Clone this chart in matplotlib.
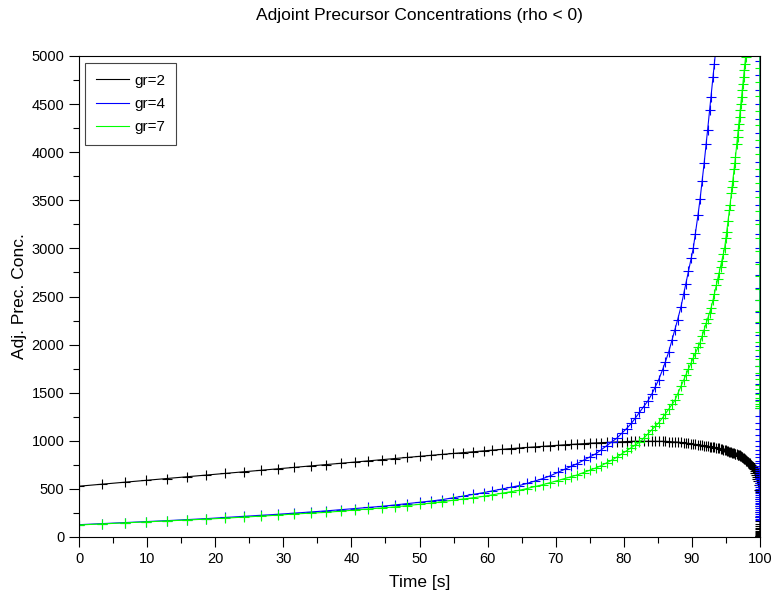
import matplotlib
matplotlib.use('Agg')
import matplotlib.pyplot as plt
from matplotlib.lines import Line2D
from matplotlib.ticker import MultipleLocator

# sample times [s] shared by the three groups
time = [0.0, 3.4, 6.7, 9.9, 12.9, 15.9, 18.7, 21.5, 24.2, 26.7,
        29.2, 31.6, 34.0, 36.2, 38.4, 40.5, 42.5, 44.5, 46.4, 48.2,
        50.0, 51.7, 53.3, 54.9, 56.4, 57.9, 59.4, 60.7, 62.1, 63.4,
        64.6, 65.8, 67.0, 68.1, 69.2, 70.3, 71.3, 72.3, 73.2, 74.1,
        75.0, 75.9, 76.7, 77.5, 78.2, 79.0, 79.7, 80.4, 81.1, 81.7,
        82.3, 82.9, 83.5, 84.1, 84.6, 85.1, 85.7, 86.1, 86.6, 87.1,
        87.5, 87.9, 88.4, 88.8, 89.1, 89.5, 89.9, 90.2, 90.5, 90.9,
        91.2, 91.5, 91.8, 92.1, 92.3, 92.6, 92.8, 93.1, 93.3, 93.6,
        93.8, 94.0, 94.2, 94.4, 94.6, 94.8, 95.0, 95.1, 95.3, 95.5,
        95.6, 95.8, 95.9, 96.0, 96.2, 96.3, 96.4, 96.6, 96.7, 96.8,
        96.9, 97.0, 97.1, 97.2, 97.3, 97.4, 97.5, 97.6, 97.7, 97.8,
        97.9, 98.0, 98.1, 98.2, 98.3, 98.4, 98.5, 98.6, 98.7, 98.8,
        98.9, 99.0, 99.1, 99.2, 99.3, 99.4, 99.5, 99.6, 99.7, 99.8,
        99.9]

# gr=2
black = [528, 549, 570, 589, 608, 627, 644, 661, 678, 694,
         709, 724, 739, 752, 766, 779, 792, 804, 816, 827,
         838, 849, 858, 868, 877, 887, 895, 903, 911, 919,
         925, 931, 937, 943, 948, 953, 958, 962, 966, 970,
         975, 978, 981, 984, 986, 989, 991, 992, 994, 995,
         995, 996, 996, 996, 996, 995, 994, 994, 992, 990,
         988, 986, 983, 980, 977, 973, 969, 967, 964, 959,
         956, 953, 950, 947, 944, 940, 938, 934, 931, 927,
         924, 920, 917, 913, 909, 904, 900, 898, 893, 888,
         886, 880, 878, 875, 870, 867, 864, 859, 856, 853,
         851, 848, 843, 838, 833, 828, 822, 817, 811, 806,
         800, 795, 789, 783, 777, 771, 765, 756, 747, 738,
         729, 720, 702, 684, 665, 645, 625, 603, 580, 545,
         490]

# gr=4 (leaves the plot at the top after ~94 s)
blue = [128, 139, 149, 160, 170, 181, 191, 203, 214, 225,
        236, 248, 260, 271, 284, 296, 308, 319, 333, 347,
        361, 374, 388, 407, 425, 442, 461, 479, 499, 517,
        534, 557, 583, 607, 636, 671, 703, 734, 764, 798,
        832, 866, 907, 950, 987, 1029, 1078, 1127, 1180, 1237,
        1295, 1354, 1411, 1484, 1558, 1631, 1740, 1820, 1925, 2053,
        2155, 2258, 2394, 2528, 2630, 2764, 2899, 3000, 3150, 3350,
        3512, 3700, 3888, 4089, 4227, 4435, 4574, 4782, 4920, 5130,
        5270, 5410]

# gr=7
green = [125, 136, 146, 156, 166, 176, 186, 196, 207, 217,
         227, 239, 248, 256, 268, 280, 291, 302, 313, 326,
         340, 353, 367, 382, 395, 408, 423, 438, 455, 471,
         485, 504, 525, 544, 565, 587, 607, 627, 646, 670,
         694, 718, 742, 772, 798, 831, 863, 896, 929, 957,
         985, 1026, 1070, 1113, 1149, 1186, 1240, 1280, 1330, 1380,
         1420, 1486, 1568, 1634, 1684, 1748, 1812, 1860, 1908, 1972,
         2020, 2087, 2154, 2221, 2266, 2333, 2378, 2463, 2526, 2621,
         2684, 2747, 2810, 2874, 2937, 3000, 3112, 3169, 3281, 3394,
         3450, 3575, 3637, 3700, 3825, 3887, 3950, 4089, 4158, 4228,
         4297, 4366, 4436, 4505, 4574, 4644, 4713, 4782, 4851, 4921,
         4990, 5070, 5150]

# values piled up at t = 100 s (final drop of each curve)
black_edge = [560, 470, 390, 320, 260, 210, 170, 140, 115, 95, 78, 63,
              50, 39, 30, 22, 15, 10, 6, 3, 1, 0]
blue_edge = [5100, 4950, 4800, 4650, 4500, 4350, 4200, 4050, 3900, 3750,
             3600, 3450, 3300, 3150, 3000, 2860, 2720, 2590, 2460, 2340,
             2220, 2100, 1990, 1880, 1780, 1680, 1590, 1500, 1420, 1340,
             1260, 1190, 1120, 1060, 1000, 950, 905, 865, 830, 795,
             765, 740, 718, 698, 678, 658, 638, 618, 598, 578,
             558, 538, 518, 498, 478, 458, 438, 418, 398, 378,
             358, 338, 318, 298, 278, 258, 240, 222, 205, 190, 175]
green_edge = [5030, 4880, 4730, 4580, 4430, 4280, 4130, 3980, 3830, 3680,
              3530, 3390, 3250, 3110, 2970, 2840, 2710, 2580, 2460, 2345,
              2235, 2130, 2030, 1940, 1855, 1775, 1700, 1640, 1585, 1535,
              1490, 1450, 1415, 1385, 1360, 1340]

labels = ['gr=2', 'gr=4', 'gr=7']
colors = ['#000000', '#0000ff', '#00ff00']

plt.rcParams['font.family'] = ['Liberation Sans', 'DejaVu Sans']

fig = plt.figure(figsize=(7.71, 5.99), dpi=100)
ax = fig.add_axes([79 / 771, 1 - 537 / 599, 681 / 771, 481 / 599])

for vals, edge, col, lab in zip([black, blue, green],
                                [black_edge, blue_edge, green_edge],
                                colors, labels):
    xs = time[:len(vals)] + [100.0] * len(edge)
    ys = vals + edge
    ax.plot(xs, ys, color=col, lw=0.8, marker='+', ms=7.5, mew=0.8, label=lab)

ax.set_xlim(0, 100)
ax.set_ylim(0, 5000)
ax.xaxis.set_major_locator(MultipleLocator(10))
ax.xaxis.set_minor_locator(MultipleLocator(5))
ax.yaxis.set_major_locator(MultipleLocator(500))
ax.yaxis.set_minor_locator(MultipleLocator(250))
ax.tick_params(which='major', direction='out', length=7, width=0.8, labelsize=10.5)
ax.tick_params(which='minor', direction='out', length=4, width=0.8)
for s in ax.spines.values():
    s.set_linewidth(0.8)

ax.set_xlabel('Time [s]', fontsize=12.5, labelpad=7)
ax.set_ylabel('Adj. Prec. Conc.', fontsize=12.5, labelpad=3)
ax.set_title('Adjoint Precursor Concentrations (rho < 0)', fontsize=12.5, pad=26)

handles = [Line2D([], [], color=c, lw=0.8) for c in colors]
leg = ax.legend(handles, labels, loc='upper left', bbox_to_anchor=(6 / 681, 1 - 7 / 481),
                borderaxespad=0, fontsize=11, fancybox=False, framealpha=1,
                handlelength=2.2, handletextpad=0.35, labelspacing=0.6, borderpad=0.7)
leg.get_frame().set_edgecolor('#444444')
leg.get_frame().set_linewidth(0.8)

fig.savefig('out.png', dpi=100)
